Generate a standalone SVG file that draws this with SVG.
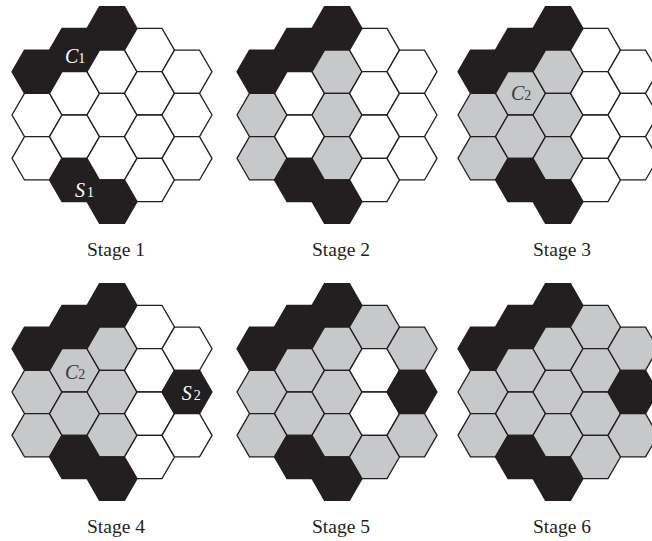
<svg xmlns="http://www.w3.org/2000/svg" xmlns:xlink="http://www.w3.org/1999/xlink" width="652" height="541" viewBox="0 0 652 541">
<style>
.w{fill:#ffffff}.g{fill:#c7c8ca}.b{fill:#231f20}
use{stroke:#231f20;stroke-width:1.3;stroke-linejoin:miter}
.cap{font-family:"Liberation Serif","Times New Roman",serif;font-size:19.5px;fill:#231f20;text-anchor:middle}
.lab{font-family:"Liberation Serif","Times New Roman",serif;font-size:20px;font-style:italic}
.sub{font-style:normal;font-size:14px}
.lw{fill:#ffffff}.ld{fill:#3a3a3c}
</style>
<defs>
<polygon id="h" points="25,0 12.5,21.65 -12.5,21.65 -25,0 -12.5,-21.65 12.5,-21.65"/>
</defs>
<g id="connectors"/>
<g id="stage1" transform="translate(112,115)">
<use href="#h" x="-75" y="-43.3" class="b"/><use href="#h" x="-75" y="0" class="w"/><use href="#h" x="-75" y="43.3" class="w"/>
<use href="#h" x="-37.5" y="-64.95" class="b"/><use href="#h" x="-37.5" y="-21.65" class="w"/><use href="#h" x="-37.5" y="21.65" class="w"/><use href="#h" x="-37.5" y="64.95" class="b"/>
<use href="#h" x="0" y="-86.6" class="b"/><use href="#h" x="0" y="-43.3" class="w"/><use href="#h" x="0" y="0" class="w"/><use href="#h" x="0" y="43.3" class="w"/><use href="#h" x="0" y="86.6" class="b"/>
<use href="#h" x="37.5" y="-64.95" class="w"/><use href="#h" x="37.5" y="-21.65" class="w"/><use href="#h" x="37.5" y="21.65" class="w"/><use href="#h" x="37.5" y="64.95" class="w"/>
<use href="#h" x="75" y="-43.3" class="w"/><use href="#h" x="75" y="0" class="w"/><use href="#h" x="75" y="43.3" class="w"/>
<text class="lab lw" x="-47" y="-52">C<tspan class="sub">1</tspan></text>
<text class="lab lw" x="-37" y="81.7">S<tspan class="sub" dx="2">1</tspan></text>
</g>
<g id="stage2" transform="translate(337,115)">
<use href="#h" x="-75" y="-43.3" class="b"/><use href="#h" x="-75" y="0" class="g"/><use href="#h" x="-75" y="43.3" class="g"/>
<use href="#h" x="-37.5" y="-64.95" class="b"/><use href="#h" x="-37.5" y="-21.65" class="w"/><use href="#h" x="-37.5" y="21.65" class="w"/><use href="#h" x="-37.5" y="64.95" class="b"/>
<use href="#h" x="0" y="-86.6" class="b"/><use href="#h" x="0" y="-43.3" class="g"/><use href="#h" x="0" y="0" class="g"/><use href="#h" x="0" y="43.3" class="g"/><use href="#h" x="0" y="86.6" class="b"/>
<use href="#h" x="37.5" y="-64.95" class="w"/><use href="#h" x="37.5" y="-21.65" class="w"/><use href="#h" x="37.5" y="21.65" class="w"/><use href="#h" x="37.5" y="64.95" class="w"/>
<use href="#h" x="75" y="-43.3" class="w"/><use href="#h" x="75" y="0" class="w"/><use href="#h" x="75" y="43.3" class="w"/>
</g>
<g id="stage3" transform="translate(558,115)">
<use href="#h" x="-75" y="-43.3" class="b"/><use href="#h" x="-75" y="0" class="g"/><use href="#h" x="-75" y="43.3" class="g"/>
<use href="#h" x="-37.5" y="-64.95" class="b"/><use href="#h" x="-37.5" y="-21.65" class="g"/><use href="#h" x="-37.5" y="21.65" class="g"/><use href="#h" x="-37.5" y="64.95" class="b"/>
<use href="#h" x="0" y="-86.6" class="b"/><use href="#h" x="0" y="-43.3" class="g"/><use href="#h" x="0" y="0" class="g"/><use href="#h" x="0" y="43.3" class="g"/><use href="#h" x="0" y="86.6" class="b"/>
<use href="#h" x="37.5" y="-64.95" class="w"/><use href="#h" x="37.5" y="-21.65" class="w"/><use href="#h" x="37.5" y="21.65" class="w"/><use href="#h" x="37.5" y="64.95" class="w"/>
<use href="#h" x="75" y="-43.3" class="w"/><use href="#h" x="75" y="0" class="w"/><use href="#h" x="75" y="43.3" class="w"/>
<text class="lab ld" x="-47" y="-15">C<tspan class="sub">2</tspan></text>
</g>
<g id="stage4" transform="translate(112,392)">
<use href="#h" x="-75" y="-43.3" class="b"/><use href="#h" x="-75" y="0" class="g"/><use href="#h" x="-75" y="43.3" class="g"/>
<use href="#h" x="-37.5" y="-64.95" class="b"/><use href="#h" x="-37.5" y="-21.65" class="g"/><use href="#h" x="-37.5" y="21.65" class="g"/><use href="#h" x="-37.5" y="64.95" class="b"/>
<use href="#h" x="0" y="-86.6" class="b"/><use href="#h" x="0" y="-43.3" class="g"/><use href="#h" x="0" y="0" class="g"/><use href="#h" x="0" y="43.3" class="g"/><use href="#h" x="0" y="86.6" class="b"/>
<use href="#h" x="37.5" y="-64.95" class="w"/><use href="#h" x="37.5" y="-21.65" class="w"/><use href="#h" x="37.5" y="21.65" class="w"/><use href="#h" x="37.5" y="64.95" class="w"/>
<use href="#h" x="75" y="-43.3" class="w"/><use href="#h" x="75" y="0" class="b"/><use href="#h" x="75" y="43.3" class="w"/>
<text class="lab ld" x="-47" y="-13">C<tspan class="sub">2</tspan></text>
<text class="lab lw" x="69.7" y="8">S<tspan class="sub" dx="2">2</tspan></text>
</g>
<g id="stage5" transform="translate(337,392)">
<use href="#h" x="-75" y="-43.3" class="b"/><use href="#h" x="-75" y="0" class="g"/><use href="#h" x="-75" y="43.3" class="g"/>
<use href="#h" x="-37.5" y="-64.95" class="b"/><use href="#h" x="-37.5" y="-21.65" class="g"/><use href="#h" x="-37.5" y="21.65" class="g"/><use href="#h" x="-37.5" y="64.95" class="b"/>
<use href="#h" x="0" y="-86.6" class="b"/><use href="#h" x="0" y="-43.3" class="g"/><use href="#h" x="0" y="0" class="g"/><use href="#h" x="0" y="43.3" class="g"/><use href="#h" x="0" y="86.6" class="b"/>
<use href="#h" x="37.5" y="-64.95" class="g"/><use href="#h" x="37.5" y="-21.65" class="w"/><use href="#h" x="37.5" y="21.65" class="w"/><use href="#h" x="37.5" y="64.95" class="g"/>
<use href="#h" x="75" y="-43.3" class="g"/><use href="#h" x="75" y="0" class="b"/><use href="#h" x="75" y="43.3" class="g"/>
</g>
<g id="stage6" transform="translate(558,392)">
<use href="#h" x="-75" y="-43.3" class="b"/><use href="#h" x="-75" y="0" class="g"/><use href="#h" x="-75" y="43.3" class="g"/>
<use href="#h" x="-37.5" y="-64.95" class="b"/><use href="#h" x="-37.5" y="-21.65" class="g"/><use href="#h" x="-37.5" y="21.65" class="g"/><use href="#h" x="-37.5" y="64.95" class="b"/>
<use href="#h" x="0" y="-86.6" class="b"/><use href="#h" x="0" y="-43.3" class="g"/><use href="#h" x="0" y="0" class="g"/><use href="#h" x="0" y="43.3" class="g"/><use href="#h" x="0" y="86.6" class="b"/>
<use href="#h" x="37.5" y="-64.95" class="g"/><use href="#h" x="37.5" y="-21.65" class="g"/><use href="#h" x="37.5" y="21.65" class="g"/><use href="#h" x="37.5" y="64.95" class="g"/>
<use href="#h" x="75" y="-43.3" class="g"/><use href="#h" x="75" y="0" class="b"/><use href="#h" x="75" y="43.3" class="g"/>
</g>
<g id="captions">
<text class="cap" x="116" y="256">Stage 1</text>
<text class="cap" x="341" y="256">Stage 2</text>
<text class="cap" x="562" y="256">Stage 3</text>
<text class="cap" x="116" y="533">Stage 4</text>
<text class="cap" x="341" y="533">Stage 5</text>
<text class="cap" x="562" y="533">Stage 6</text>
</g>
</svg>
